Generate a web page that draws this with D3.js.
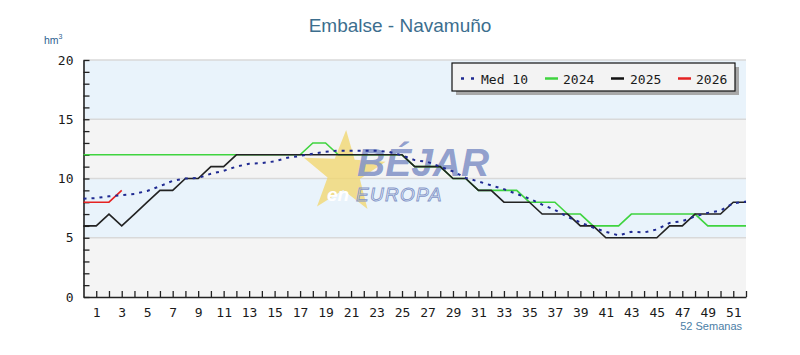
<!DOCTYPE html>
<html>
<head>
<meta charset="utf-8">
<script src="https://cdn.jsdelivr.net/npm/d3@7"></script>
<style>
  html, body { margin: 0; padding: 0; background: #ffffff; }
  svg { display: block; }
</style>
</head>
<body>
<svg id="chart" width="800" height="355"></svg>
<script>
// ---- Data (week index 0..52) ----
const weeks = d3.range(0, 53);
const med10 = [8.3, 8.35, 8.5, 8.6, 8.7, 8.95, 9.35, 9.8, 10.0, 10.05,
               10.4, 10.65, 11.0, 11.25, 11.3, 11.45, 11.75, 11.9, 12.1, 12.25,
               12.35, 12.35, 12.35, 12.35, 12.25, 11.95, 11.55, 11.4, 11.0, 10.6,
               10.05, 9.75, 9.42, 9.1, 8.7, 8.3, 7.8, 7.35, 6.75, 6.3,
               5.85, 5.5, 5.2, 5.5, 5.45, 5.7, 6.25, 6.4, 6.8, 7.1,
               7.3, 7.9, 8.05];
const y2024 = [12,12,12,12,12,12,12,12,12,12,12,12,12,12,12,12,12,12,13,13,
               12,12,12,12,12,12,11,11,11,10,10,9,9,9,9,8,8,8,7,7,
               6,6,6,7,7,7,7,7,7,6,6,6,6];
const y2025 = [6,6,7,6,7,8,9,9,10,10,11,11,12,12,12,12,12,12,12,12,
               12,12,12,12,12,12,11,11,11,10,10,9,9,8,8,8,7,7,7,6,
               6,5,5,5,5,5,6,6,7,7,7,8,8];
const y2026 = [8,8,8,9];
const yTicks = [0, 5, 10, 15, 20];
const xTickLabels = d3.range(1, 53, 2);
const legendLabels = ["Med 10", "2024", "2025", "2026"];

const title = "Embalse - Navamuño";
const unitLabel = "hm";
const xAxisNote = "52 Semanas";

// ---- Layout ----
const svg = d3.select("#chart");
const pL = 83.5, pR = 746, pT = 60, pB = 297;
const x = d3.scaleLinear().domain([0, 52]).range([pL, pR]);
const y = d3.scaleLinear().domain([0, 20]).range([pB, pT]);

// Bands
const bands = [[15, 20, "#e9f3fb"], [10, 15, "#f4f4f4"], [5, 10, "#e9f3fb"], [0, 5, "#f4f4f4"]];
svg.append("g").selectAll("rect").data(bands).join("rect")
  .attr("x", pL).attr("width", pR - pL)
  .attr("y", d => y(d[1])).attr("height", d => y(d[0]) - y(d[1]))
  .attr("fill", d => d[2]);

// Grid lines
svg.append("g").selectAll("line").data([5, 10, 15, 20]).join("line")
  .attr("x1", pL).attr("x2", pR)
  .attr("y1", d => y(d)).attr("y2", d => y(d))
  .attr("stroke", "#d9d9d9").attr("stroke-width", 1.5);

// Title
svg.append("text").attr("x", 400).attr("y", 32).attr("text-anchor", "middle")
  .attr("font-family", "Liberation Sans, Arial, sans-serif").attr("font-size", 19)
  .attr("fill", "#3c6e8e").text(title);

// Unit label
const ut = svg.append("text").attr("x", 44).attr("y", 44)
  .attr("font-family", "Liberation Sans, Arial, sans-serif").attr("font-size", 10.5)
  .attr("fill", "#2f5f90");
ut.append("tspan").text(unitLabel);
ut.append("tspan").attr("font-size", 7).attr("dy", -5).text("3");

// Watermark (logo)
const wm = svg.append("g");
const cx = 344, cy = 173, R = 43, r = 17;
const starPts = d3.range(10).map(i => {
  const ang = -Math.PI / 2 + i * Math.PI / 5 + 0.05;
  const rad = i % 2 === 0 ? R : r;
  return [cx + rad * Math.cos(ang), cy + rad * Math.sin(ang)];
});
wm.append("polygon").attr("points", starPts.map(p => p.join(",")).join(" "))
  .attr("fill", "#f1d56a").attr("opacity", 0.75);
const logo = wm.append("text").attr("x", 357).attr("y", 176)
  .attr("font-family", "Liberation Sans, Arial, sans-serif").attr("font-style", "italic");
logo.append("tspan").attr("font-size", 39).attr("font-weight", "bold")
  .attr("fill", "#8495c8").attr("fill-opacity", 0.9).text("BÉJAR");
logo.append("tspan").attr("x", 327).attr("y", 201).attr("font-size", 19).attr("font-weight", "bold")
  .attr("fill", "#ffffff").text("en");
logo.append("tspan").attr("x", 356).attr("y", 201).attr("font-size", 19).attr("font-weight", "normal")
  .attr("letter-spacing", 1.3)
  .attr("fill", "none").attr("stroke", "#8495c8").attr("stroke-width", 0.9).text("EUROPA");

// Axes
const yAxis = d3.axisLeft(y).tickValues(d3.range(0, 21)).tickSizeInner(-6).tickSizeOuter(0)
  .tickPadding(10).tickFormat(d => yTicks.includes(d) ? d : "");
const gy = svg.append("g").attr("transform", `translate(${pL},0)`).call(yAxis);
const xAxis = d3.axisBottom(x).tickValues(d3.range(1, 53)).tickSizeInner(-6).tickSizeOuter(0)
  .tickPadding(11).tickFormat(d => xTickLabels.includes(d) ? d : "");
const gx = svg.append("g").attr("transform", `translate(0,${pB})`).call(xAxis);
[gx, gy].forEach(g => {
  g.select(".domain").attr("stroke", "#222").attr("stroke-width", 1.6);
  g.selectAll(".tick line").attr("stroke", "#222").attr("stroke-width", 1.3);
  g.selectAll(".tick text").attr("font-family", "DejaVu Sans Mono, monospace")
    .attr("font-size", 13).attr("fill", "#1a1a1a");
});

svg.append("text").attr("x", 742).attr("y", 330).attr("text-anchor", "end")
  .attr("font-family", "Liberation Sans, Arial, sans-serif").attr("font-size", 11)
  .attr("fill", "#4b7ea6").text(xAxisNote);

// Lines
const line = d3.line().x((d, i) => x(i)).y(d => y(d));
const plot = svg.append("g");
plot.append("path").datum(y2024).attr("d", line)
  .attr("fill", "none").attr("stroke", "#3fd43f").attr("stroke-width", 1.6);
plot.append("path").datum(y2025).attr("d", line)
  .attr("fill", "none").attr("stroke", "#222").attr("stroke-width", 1.6);
plot.append("path").datum(y2026).attr("d", line)
  .attr("fill", "none").attr("stroke", "#e52222").attr("stroke-width", 1.6);
plot.append("path").datum(med10).attr("d", line)
  .attr("fill", "none").attr("stroke", "#1f2a92").attr("stroke-width", 2)
  .attr("stroke-dasharray", "3,5");

// Legend
const lg = svg.append("g");
lg.append("rect").attr("x", 456).attr("y", 67).attr("width", 283).attr("height", 28).attr("fill", "#a8a8a8");
lg.append("rect").attr("x", 452).attr("y", 63).attr("width", 283).attr("height", 28)
  .attr("fill", "#f3f3f3").attr("stroke", "#111").attr("stroke-width", 1.2);
const legendItems = [
  {label: legendLabels[0], color: "#1f2a92", dash: "3,7", x: 461, tx: 481},
  {label: legendLabels[1], color: "#3fd43f", dash: null, x: 545, tx: 563},
  {label: legendLabels[2], color: "#111", dash: null, x: 611, tx: 630},
  {label: legendLabels[3], color: "#e52222", dash: null, x: 678, tx: 696}
];
legendItems.forEach(it => {
  lg.append("line").attr("x1", it.x).attr("x2", it.x + 13).attr("y1", 78.5).attr("y2", 78.5)
    .attr("stroke", it.color).attr("stroke-width", 2.5)
    .attr("stroke-dasharray", it.dash);
  lg.append("text").attr("x", it.tx).attr("y", 83.5)
    .attr("font-family", "DejaVu Sans Mono, monospace").attr("font-size", 13)
    .attr("fill", "#1a1a1a").text(it.label);
});
</script>
</body>
</html>
